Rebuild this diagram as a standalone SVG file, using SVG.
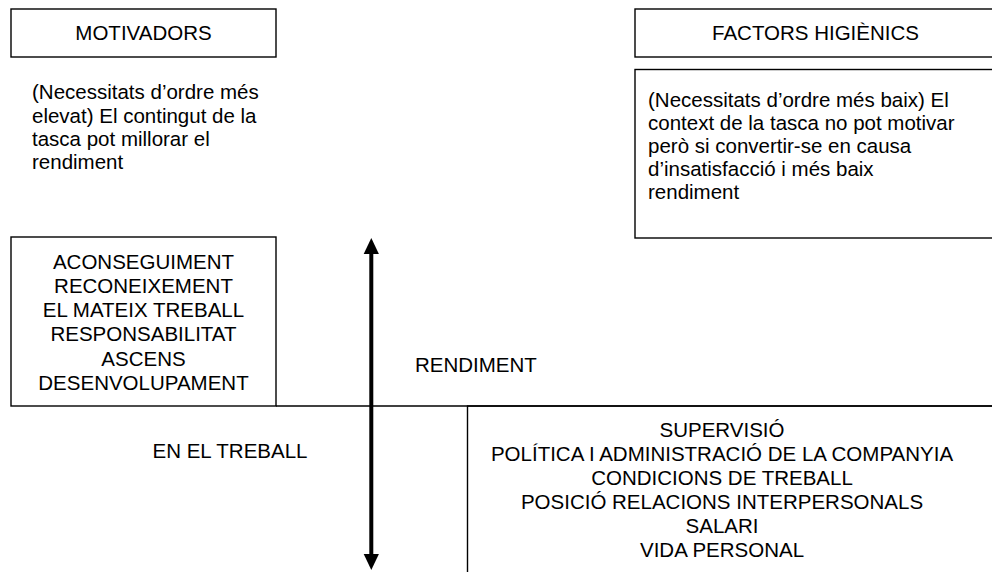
<svg xmlns="http://www.w3.org/2000/svg" width="992" height="572" viewBox="0 0 992 572">
  <style>
    .box { fill: #ffffff; stroke: #000000; stroke-width: 1.4; }
    .line { fill: none; stroke: #000000; stroke-width: 1.4; }
    text { font-family: "Liberation Sans", Arial, sans-serif; font-size: 20.5px; fill: #000000; }
    .c { text-anchor: middle; }
  </style>
  <defs>
    <marker id="head" markerWidth="4" markerHeight="4" refX="2" refY="2" orient="auto-start-reverse" markerUnits="strokeWidth" viewBox="0 0 4 4">
      <path d="M0,0.1 L4,2 L0,3.9 Z" fill="#000000"/>
    </marker>
  </defs>

  <rect width="992" height="572" fill="#ffffff"/>

  <!-- Motivators header -->
  <g id="motivadors">
    <rect class="box" x="11" y="9" width="265" height="48"/>
    <text class="c" x="143.5" y="40">MOTIVADORS</text>
  </g>

  <g id="motivadors-desc">
    <text x="32" y="99">(Necessitats d’ordre més</text>
    <text x="32" y="122.5">elevat) El contingut de la</text>
    <text x="32" y="146">tasca pot millorar el</text>
    <text x="32" y="169">rendiment</text>
  </g>

  <!-- Hygiene factors header -->
  <g id="factors">
    <rect class="box" x="635" y="9" width="362" height="48"/>
    <text class="c" x="815.5" y="40">FACTORS HIGIÈNICS</text>
  </g>

  <g id="factors-desc">
    <rect class="box" x="635" y="69.5" width="362" height="168.5"/>
    <text x="648" y="107">(Necessitats d’ordre més baix) El</text>
    <text x="648" y="130">context de la tasca no pot motivar</text>
    <text x="648" y="153">però si convertir-se en causa</text>
    <text x="648" y="176">d’insatisfacció i més baix</text>
    <text x="648" y="199">rendiment</text>
  </g>

  <!-- Motivator list -->
  <g id="motivadors-llista">
    <rect class="box" x="11" y="237" width="265" height="169"/>
    <text class="c" x="143.5" y="269">ACONSEGUIMENT</text>
    <text class="c" x="143.5" y="293">RECONEIXEMENT</text>
    <text class="c" x="143.5" y="317">EL MATEIX TREBALL</text>
    <text class="c" x="143.5" y="341">RESPONSABILITAT</text>
    <text class="c" x="143.5" y="366">ASCENS</text>
    <text class="c" x="143.5" y="390">DESENVOLUPAMENT</text>
  </g>

  <!-- Hygiene factor list -->
  <g id="factors-llista">
    <rect class="box" x="467.5" y="406" width="530" height="180"/>
    <text class="c" x="722" y="437">SUPERVISIÓ</text>
    <text class="c" x="722" y="461">POLÍTICA I ADMINISTRACIÓ DE LA COMPANYIA</text>
    <text class="c" x="722" y="485">CONDICIONS DE TREBALL</text>
    <text class="c" x="722" y="509">POSICIÓ RELACIONS INTERPERSONALS</text>
    <text class="c" x="722" y="533">SALARI</text>
    <text class="c" x="722" y="557">VIDA PERSONAL</text>
  </g>

  <g id="rendiment">
    <text x="415" y="372">RENDIMENT</text>
  </g>

  <g id="en-el-treball">
    <text class="c" x="230" y="458">EN EL TREBALL</text>
  </g>

  <!-- Axes -->
  <g id="connectors">
    <line class="line" x1="276" y1="406" x2="992" y2="406"/>
    <line x1="371.3" y1="246" x2="371.3" y2="562" stroke="#000000" stroke-width="4" marker-start="url(#head)" marker-end="url(#head)"/>
  </g>
</svg>
